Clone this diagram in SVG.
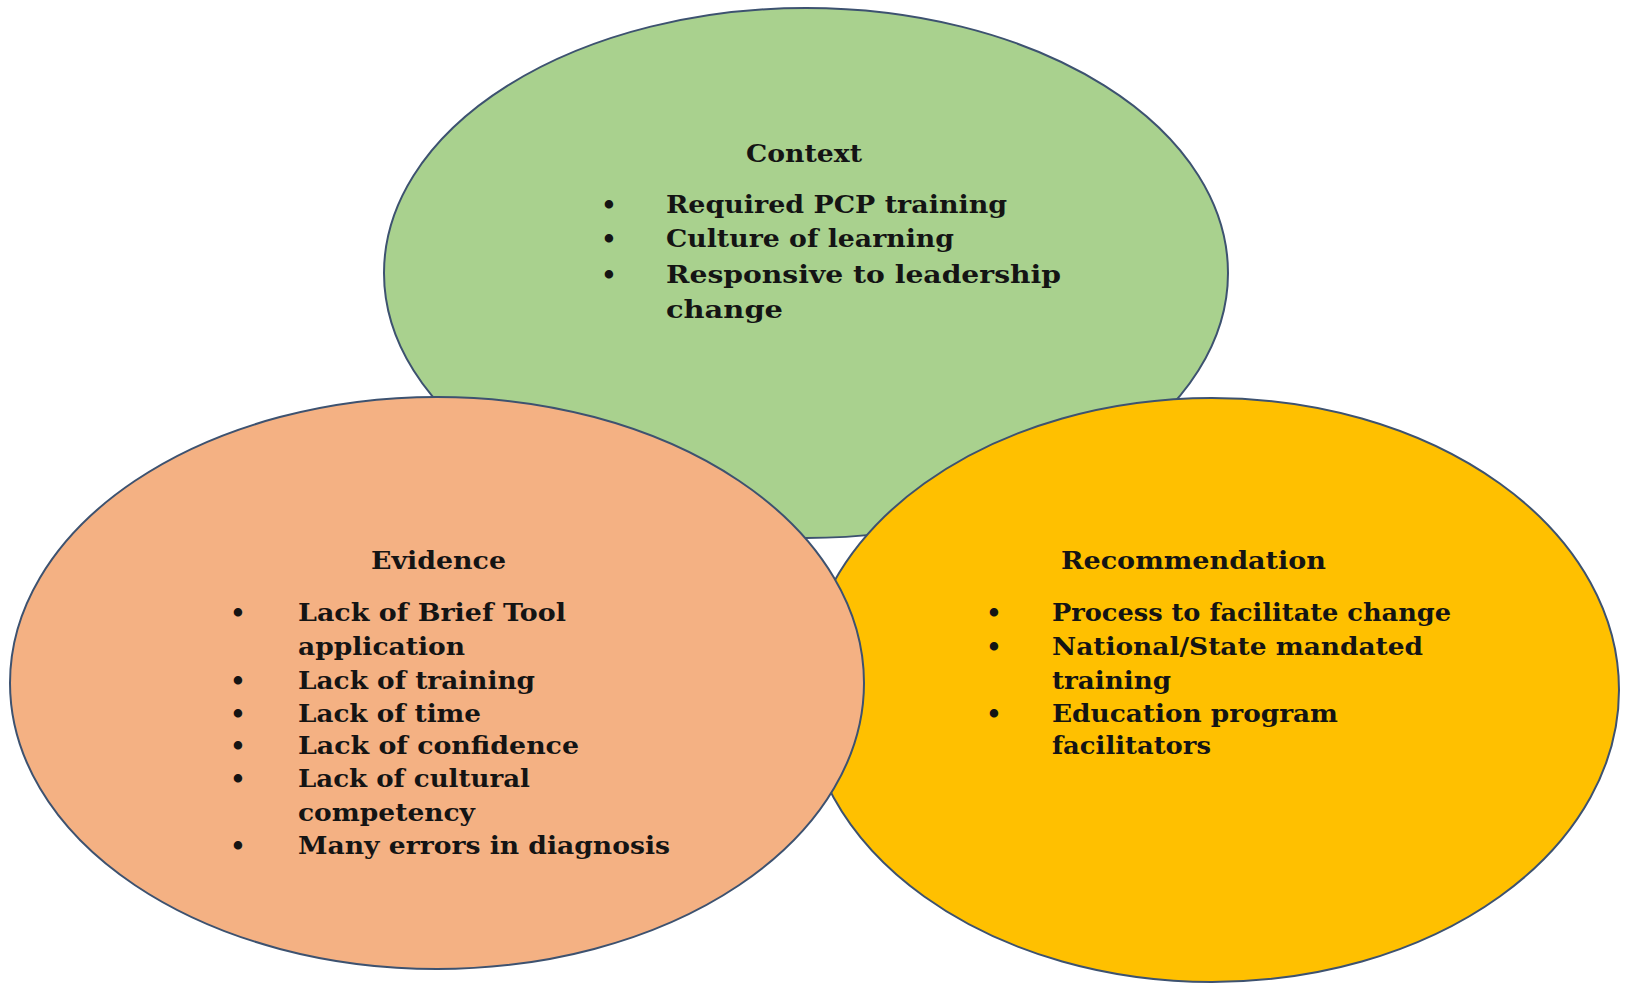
<svg xmlns="http://www.w3.org/2000/svg" width="1629" height="989" viewBox="0 0 1629 989">
<style>
.c{stroke:#3d5270;stroke-width:2}
.t{font-family:"DejaVu Serif","Liberation Serif",serif;font-weight:bold;font-size:24px;fill:#141414}
.b{font-family:"DejaVu Serif","Liberation Serif",serif;font-weight:bold;font-size:24px;fill:#141414;text-anchor:middle}
</style>
<rect width="1629" height="989" fill="#ffffff"/>
<g id="context">
<ellipse class="c" cx="806" cy="273" rx="422" ry="265" fill="#a9d18e"/>
<text class="t" x="746" y="162" textLength="116" lengthAdjust="spacingAndGlyphs">Context</text>
<text class="b" x="609" y="213">•</text>
<text class="t" x="666" y="213" textLength="341" lengthAdjust="spacingAndGlyphs">Required PCP training</text>
<text class="b" x="609" y="247">•</text>
<text class="t" x="666" y="247" textLength="288" lengthAdjust="spacingAndGlyphs">Culture of learning</text>
<text class="b" x="609" y="283">•</text>
<text class="t" x="666" y="283" textLength="395" lengthAdjust="spacingAndGlyphs">Responsive to leadership</text>
<text class="t" x="666" y="318" textLength="117" lengthAdjust="spacingAndGlyphs">change</text>
</g>
<g id="recommendation">
<ellipse class="c" cx="1212" cy="690" rx="407" ry="292" fill="#ffc000"/>
<text class="t" x="1061" y="569" textLength="265" lengthAdjust="spacingAndGlyphs">Recommendation</text>
<text class="b" x="994" y="621">•</text>
<text class="t" x="1052" y="621" textLength="399" lengthAdjust="spacingAndGlyphs">Process to facilitate change</text>
<text class="b" x="994" y="655">•</text>
<text class="t" x="1052" y="655" textLength="371" lengthAdjust="spacingAndGlyphs">National/State mandated</text>
<text class="t" x="1052" y="689" textLength="119" lengthAdjust="spacingAndGlyphs">training</text>
<text class="b" x="994" y="722">•</text>
<text class="t" x="1052" y="722" textLength="286" lengthAdjust="spacingAndGlyphs">Education program</text>
<text class="t" x="1052" y="754" textLength="159" lengthAdjust="spacingAndGlyphs">facilitators</text>
</g>
<g id="evidence">
<ellipse class="c" cx="437" cy="683" rx="427" ry="286" fill="#f4b183"/>
<text class="t" x="371" y="569" textLength="135" lengthAdjust="spacingAndGlyphs">Evidence</text>
<text class="b" x="238" y="621">•</text>
<text class="t" x="298" y="621" textLength="268" lengthAdjust="spacingAndGlyphs">Lack of Brief Tool</text>
<text class="t" x="298" y="655" textLength="167" lengthAdjust="spacingAndGlyphs">application</text>
<text class="b" x="238" y="689">•</text>
<text class="t" x="298" y="689" textLength="237" lengthAdjust="spacingAndGlyphs">Lack of training</text>
<text class="b" x="238" y="722">•</text>
<text class="t" x="298" y="722" textLength="183" lengthAdjust="spacingAndGlyphs">Lack of time</text>
<text class="b" x="238" y="754">•</text>
<text class="t" x="298" y="754" textLength="281" lengthAdjust="spacingAndGlyphs">Lack of confidence</text>
<text class="b" x="238" y="787">•</text>
<text class="t" x="298" y="787" textLength="232" lengthAdjust="spacingAndGlyphs">Lack of cultural</text>
<text class="t" x="298" y="821" textLength="177" lengthAdjust="spacingAndGlyphs">competency</text>
<text class="b" x="238" y="854">•</text>
<text class="t" x="298" y="854" textLength="372" lengthAdjust="spacingAndGlyphs">Many errors in diagnosis</text>
</g>
<g id="connectors"></g>
</svg>
